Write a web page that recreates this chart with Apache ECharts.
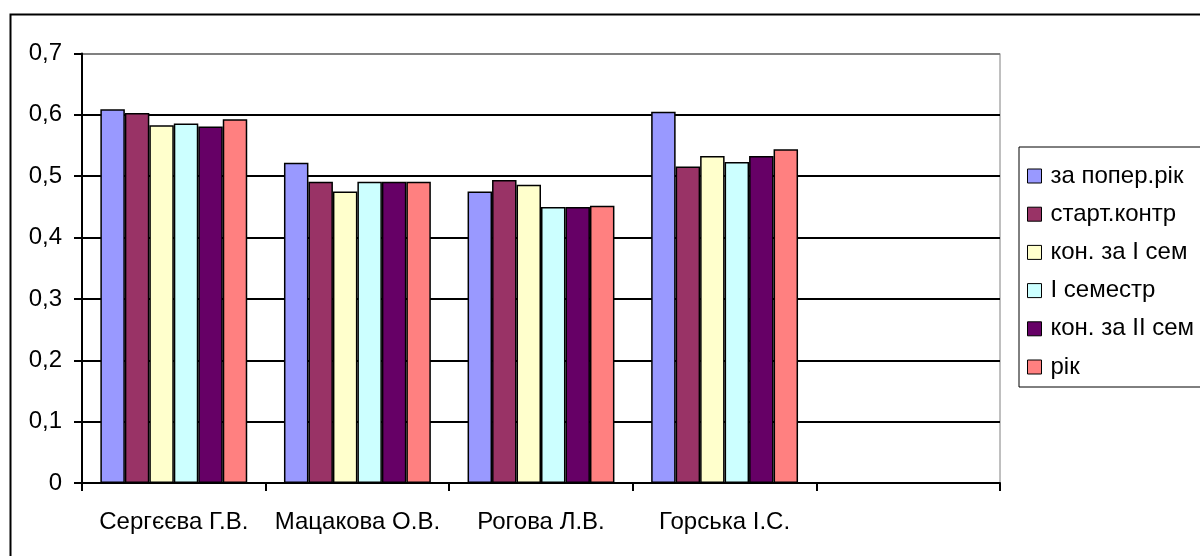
<!DOCTYPE html>
<html>
<head>
<meta charset="utf-8">
<script src="https://cdn.jsdelivr.net/npm/echarts@6/dist/echarts.min.js"></script>
<style>
html,body{margin:0;padding:0;background:#fff;}
#main{width:1200px;height:556px;}
</style>
</head>
<body>
<div id="main"></div>
<script>
const categories = ['Сергєєва Г.В.', 'Мацакова О.В.', 'Рогова Л.В.', 'Горська І.С.', ''];
const seriesNames = ['за попер.рік', 'старт.контр', 'кон. за I сем', 'I семестр', 'кон. за II сем', 'рік'];
const zaPoperRik   = [0.609, 0.522, 0.475, 0.605, null];
const startKontr   = [0.603, 0.491, 0.494, 0.516, null];
const konZaISem    = [0.583, 0.475, 0.486, 0.533, null];
const iSemestr     = [0.586, 0.491, 0.450, 0.523, null];
const konZaIISem   = [0.581, 0.491, 0.450, 0.533, null];
const rik          = [0.593, 0.491, 0.452, 0.544, null];
const yTicks = [0, 0.1, 0.2, 0.3, 0.4, 0.5, 0.6, 0.7];

const values = [zaPoperRik, startKontr, konZaISem, iSemestr, konZaIISem, rik];
const colors = ['#9999FF', '#993366', '#FFFFCC', '#CCFFFF', '#660066', '#FF8080'];
const FONT = 'Liberation Sans, Arial, sans-serif';

const chart = echarts.init(document.getElementById('main'));
chart.setOption({
  animation: false,
  backgroundColor: '#fff',
  graphic: [{
    type: 'rect', left: 8, top: 12, z: -10,
    shape: { x: 0, y: 0, width: 1300, height: 700 },
    style: { fill: 'none', stroke: '#000', lineWidth: 2 }
  }],
  grid: { left: 82, right: 200, top: 53.5, bottom: 73, show: true, borderColor: '#808080', borderWidth: 1, containLabel: false },
  legend: {
    orient: 'vertical', left: 1019, top: 147,
    data: seriesNames,
    icon: 'rect', itemWidth: 14, itemHeight: 14, itemGap: 14.2,
    padding: [17, 10, 8, 8],
    borderColor: '#000', borderWidth: 1,
    textStyle: { fontFamily: FONT, fontSize: 24, color: '#000', lineHeight: 24, padding: [0,0,0,4] },
    itemStyle: { borderColor: '#000', borderWidth: 1 }
  },
  xAxis: {
    type: 'category', data: categories, boundaryGap: true,
    axisLine: { lineStyle: { color: '#000', width: 2 } },
    axisTick: { show: true, alignWithLabel: false, length: 8, lineStyle: { color: '#000', width: 2 } },
    axisLabel: { fontFamily: FONT, fontSize: 24, color: '#000', margin: 27, interval: 0 },
    splitLine: { show: false }
  },
  yAxis: {
    type: 'value', min: yTicks[0], max: yTicks[yTicks.length - 1], interval: 0.1,
    axisLine: { show: true, lineStyle: { color: '#000', width: 2 } },
    axisTick: { show: true, length: 8, lineStyle: { color: '#000', width: 2 } },
    axisLabel: { fontFamily: FONT, fontSize: 24, color: '#000', margin: 20,
      formatter: v => String(Math.round(v * 10) / 10).replace('.', ',') },
    splitLine: { show: true, lineStyle: { color: ['#000','#000','#000','#000','#000','#000','#000','#808080'], width: 2 } }
  },
  series: seriesNames.map((name, i) => ({
    name, type: 'bar', data: values[i],
    barGap: '0%', barCategoryGap: '20%',
    itemStyle: { color: colors[i], borderColor: '#000', borderWidth: 1.5 }
  }))
});
</script>
</body>
</html>
